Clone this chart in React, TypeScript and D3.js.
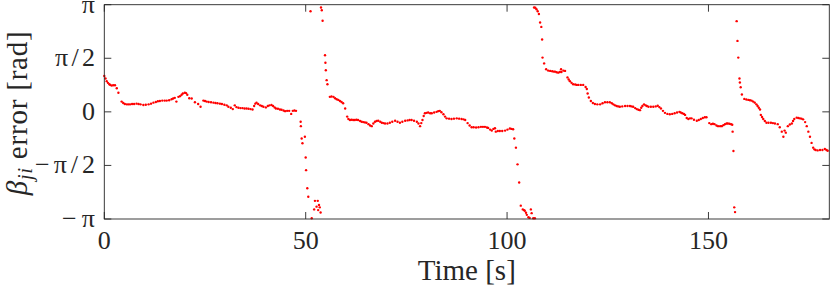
import React from "react";
import * as d3 from "d3";

const PI = Math.PI;

// [time s, error rad]
const seg1: [number, number][] = [
  [0,1.05],[0.3,0.98],[0.6,0.90],[0.9,0.85],[1.25,0.81],[1.5,0.79],[1.8,0.77],[2.2,0.78],[2.65,0.78],[3.1,0.69],[3.5,0.56],[4.3,0.30],[4.7,0.26],[5.1,0.23],[5.6,0.22],[6.0,0.22],[6.4,0.22],[6.9,0.23],[7.4,0.23],[8.0,0.24],[8.5,0.23],[9.0,0.22],[9.7,0.20],[10.3,0.21],[11.0,0.22],[11.6,0.24],[12.2,0.27],[12.8,0.29],[13.3,0.31],[13.8,0.32],[14.4,0.33],[15.0,0.33],[15.5,0.33],[16.1,0.34],[16.7,0.37],[17.1,0.39],[17.5,0.41],[17.9,0.30],[18.4,0.44],[18.8,0.46],[19.2,0.50],[19.5,0.54],[20.0,0.56],[20.3,0.55],[20.6,0.50],[21.1,0.40],[21.7,0.39],[22.5,0.28],[23.3,0.23],[23.9,0.15],[24.6,0.33],[25.0,0.32],[25.4,0.30],[25.9,0.29],[26.5,0.28],[27.1,0.27],[27.6,0.26],[28.1,0.25],[28.7,0.24],[29.2,0.23],[29.8,0.21],[30.4,0.19],[30.8,0.15],[31.4,0.12],[31.9,0.08],[32.4,0.19],[32.8,0.14],[33.3,0.12],[33.8,0.11],[34.3,0.11],[34.8,0.10],[35.3,0.10],[35.8,0.09],[36.3,0.08],[36.8,0.07],[37.2,0.17],[37.5,0.24],[37.8,0.27],[38.2,0.23],[38.7,0.19],[39.1,0.17],[39.5,0.15],[40.1,0.13],[40.6,0.17],[41.0,0.19],[41.5,0.20],[41.9,0.17],[42.3,0.13],[42.6,0.10],[43.1,0.09],[43.6,0.07],[44.0,0.06],[44.5,0.04],[44.9,0.02],[45.4,0.03],[45.9,0.03],[46.4,-0.06],[46.8,0.03],[47.2,0.04],[47.6,0.03]
];

const wrap1: [number, number][] = [
  [48.75,-0.29],[48.8,-0.42],[49.0,-0.78],[49.8,-0.73],[49.2,-0.92],[50.0,-1.34],[50.1,-1.71],[50.4,-2.24],[50.65,-2.49],[51.5,-3.12],[52.1,-2.86],[52.3,-2.61],[52.7,-2.78],[53.0,-2.61],[53.1,-2.88],[53.3,-2.73],[53.5,-2.80],[53.7,-2.95],
  [51.2,2.95],[53.8,3.06],[54.0,2.98],[54.2,2.67],[54.8,1.66],[54.9,1.44],[55.0,1.22],[55.2,0.93],[55.4,0.81]
];

const seg2: [number, number][] = [
  [56.0,0.44],[56.4,0.45],[56.9,0.44],[57.3,0.40],[57.7,0.37],[58.1,0.35],[58.5,0.32],[58.9,0.29],[59.3,0.25],[59.8,0.10],[60.3,-0.14],[60.6,-0.21],[61.0,-0.24],[61.4,-0.23],[61.8,-0.24],[62.2,-0.24],[62.6,-0.23],[63.0,-0.24],[63.5,-0.27],[63.9,-0.29],[64.3,-0.30],[64.7,-0.31],[65.1,-0.32],[65.6,-0.36],[66.0,-0.40],[66.4,-0.42],[66.8,-0.34],[67.2,-0.29],[67.6,-0.27],[68.0,-0.26],[68.5,-0.29],[68.9,-0.32],[69.3,-0.33],[69.7,-0.34],[70.3,-0.34],[70.9,-0.32],[71.5,-0.29],[72.2,-0.26],[72.8,-0.29],[73.4,-0.32],[74.0,-0.29],[74.7,-0.26],[75.3,-0.25],[75.8,-0.24],[76.3,-0.24],[76.9,-0.26],[77.6,-0.29],[78.0,-0.34],[78.4,-0.42],[78.7,-0.33],[79.0,-0.24],[79.3,-0.12],[79.6,-0.04],[80.0,-0.03],[80.4,-0.02],[80.9,-0.04],[81.3,-0.04],[81.9,-0.02],[82.5,0.00],[82.9,0.02],[83.3,0.03],[83.7,-0.01],[84.2,-0.07],[84.6,-0.14],[85.0,-0.19],[85.6,-0.20],[86.2,-0.21],[86.8,-0.20],[87.5,-0.19],[88.1,-0.20],[88.7,-0.21],[89.2,-0.22],[89.6,-0.24],[90.2,-0.33],[90.7,-0.40],[91.2,-0.45],[91.7,-0.45],[92.3,-0.46],[92.9,-0.45],[93.5,-0.44],[94.0,-0.44],[94.5,-0.44],[95.0,-0.46],[95.3,-0.47],[95.8,-0.52],[96.2,-0.55],[96.6,-0.50],[97.0,-0.48],[97.2,-0.58],[97.7,-0.56],[98.2,-0.56],[98.8,-0.56],[99.5,-0.55],[100.1,-0.52],[100.7,-0.49],[101.1,-0.50],[101.5,-0.51]
];

const wrap2: [number, number][] = [
  [101.8,-0.78],[102.2,-1.05],[102.6,-1.54],[103.0,-2.07],[103.4,-2.75],[103.9,-2.86],[104.2,-2.88],[104.4,-2.90],[104.7,-2.96],[104.9,-3.02],[105.3,-3.09],[105.6,-3.11],[105.9,-2.86],[106.1,-2.97],[106.5,-3.12],[106.9,-3.12],
  [106.7,3.06],[107.0,3.05],[107.3,3.01],[107.6,2.95],[107.9,2.87],[108.2,2.62],[108.5,2.49],[108.7,2.12],[108.8,1.59],[109.2,1.42],[109.7,1.25]
];

const seg3: [number, number][] = [
  [110.2,1.21],[110.7,1.20],[111.2,1.19],[111.6,1.18],[111.9,1.18],[112.3,1.16],[112.7,1.15],[113.1,1.17],[113.4,1.25],[113.5,1.17],[114.0,1.21],[114.4,1.20],[115.0,1.01],[115.3,0.95],[115.6,0.90],[116.0,0.85],[116.4,0.81],[116.9,0.80],[117.3,0.79],[117.7,0.79],[118.3,0.79],[118.9,0.79],[119.5,0.73],[119.8,0.67],[120.0,0.54],[120.3,0.42],[120.8,0.32],[121.3,0.26],[121.8,0.23],[122.4,0.22],[123.1,0.22],[123.7,0.25],[124.3,0.28],[124.9,0.28],[125.5,0.28],[126.0,0.25],[126.4,0.22],[126.8,0.19],[127.2,0.17],[127.6,0.16],[128.0,0.15],[128.6,0.16],[129.3,0.17],[129.9,0.17],[130.5,0.17],[130.9,0.16],[131.3,0.15],[131.8,0.11],[132.2,0.08],[132.6,0.06],[133.0,0.05],[133.3,0.12],[133.6,0.17],[134.0,0.22],[134.4,0.19],[134.7,0.17],[135.1,0.15],[135.7,0.15],[136.3,0.15],[136.9,0.16],[137.4,0.18],[137.8,0.14],[138.2,0.10],[138.7,0.03],[139.2,-0.03],[139.8,-0.06],[140.4,-0.07],[141.0,-0.06],[141.6,-0.04],[142.2,-0.02],[142.8,0.00],[143.1,-0.02],[143.5,-0.04],[143.9,-0.06],[144.2,-0.09],[144.6,-0.18],[145.0,-0.21],[145.4,-0.19],[145.8,-0.19],[146.4,-0.23],[147.1,-0.26],[147.6,-0.24],[148.1,-0.21],[148.6,-0.18],[149.1,-0.16],[149.5,-0.16],[150.2,-0.33],[150.7,-0.36],[151.1,-0.35],[151.5,-0.36],[152.0,-0.40],[152.4,-0.42],[152.9,-0.42],[153.3,-0.42],[153.7,-0.39],[154.1,-0.36],[154.5,-0.34],[154.8,-0.34],[155.2,-0.35],[155.6,-0.36],[155.9,-0.38]
];

const wrap3: [number, number][] = [
  [156.0,-0.58],[156.2,-1.15],[156.4,-2.80],[156.6,-2.94],
  [157.0,2.66],[157.2,2.08],[157.4,1.59],[157.7,0.98],[157.8,0.86],[158.0,0.72],[158.3,0.51]
];

const seg4: [number, number][] = [
  [158.9,0.38],[159.4,0.36],[159.9,0.35],[160.3,0.34],[160.7,0.33],[161.1,0.30],[161.5,0.27],[161.9,0.22],[162.2,0.17],[162.5,0.12],[162.8,0.07],[163.0,-0.09],[163.3,-0.15],[163.6,-0.21],[164.0,-0.27],[164.4,-0.32],[164.9,-0.32],[165.5,-0.32],[166.0,-0.33],[166.5,-0.34],[167.2,-0.36],[167.7,-0.45],[168.2,-0.58],[168.6,-0.73],[168.9,-0.55],[169.2,-0.61],[169.7,-0.42],[170.2,-0.37],[170.7,-0.34],[171.0,-0.27],[171.3,-0.21],[171.9,-0.17],[172.3,-0.18],[172.7,-0.19],[173.1,-0.20],[173.5,-0.22],[174.0,-0.30],[174.4,-0.42],[174.8,-0.58],[175.2,-0.73],[175.6,-0.91],[176.0,-1.05],[176.3,-1.10],[176.6,-1.12],[177.1,-1.13],[177.7,-1.12],[178.3,-1.12],[178.9,-1.09],[179.3,-1.12],[179.6,-1.14]
];

const xTicks = [0, 50, 100, 150];
const yTicks = [-PI, -PI / 2, 0, PI / 2, PI];
const yTickLabels = ["\u2212\u03c0", "\u2212\u03c0/2", "0", "\u03c0/2", "\u03c0"];
const yTickWidths = [33, 60, 12, 40, 13];

export default function App() {
  const W = 830, H = 291;
  const L = 104.3, R = 829.3, T = 4.7, B = 219;
  const x = d3.scaleLinear().domain([0, 180]).range([L, R]);
  const y = d3.scaleLinear().domain([-PI, PI]).range([B, T]);
  const all = [...seg1, ...wrap1, ...seg2, ...wrap2, ...seg3, ...wrap3, ...seg4];
  const font = "'Liberation Serif', 'Times New Roman', serif";
  const axisColor = "#262626";
  const tl = 7;
  return (
    <svg width={W} height={H} style={{ position: "absolute", left: 0, top: 0, background: "#fff" }} fontFamily={font}>
      <rect x={0} y={0} width={W} height={H} fill="#fff" />
      {all.map((d, i) => (
        <circle key={i} cx={x(d[0])} cy={y(d[1])} r={1.2} fill="#ff0000" />
      ))}
      <rect x={L} y={T} width={R - L} height={B - T} fill="none" stroke={axisColor} strokeWidth={0.9} />
      {xTicks.map((t) => (
        <g key={"x" + t}>
          <line x1={x(t)} x2={x(t)} y1={B} y2={B - tl} stroke={axisColor} strokeWidth={0.9} />
          <line x1={x(t)} x2={x(t)} y1={T} y2={T + tl} stroke={axisColor} strokeWidth={0.9} />
          <text x={x(t)} y={249} textAnchor="middle" fontSize={26} fill="#262626">{t}</text>
        </g>
      ))}
      {yTicks.map((t, i) => (
        <g key={"y" + i}>
          <line x1={L} x2={L + tl} y1={y(t)} y2={y(t)} stroke={axisColor} strokeWidth={0.9} />
          <line x1={R} x2={R - tl} y1={y(t)} y2={y(t)} stroke={axisColor} strokeWidth={0.9} />
          <text x={95} y={y(t) + 8} textAnchor="end" fontSize={26} fill="#262626"
            textLength={yTickWidths[i]} lengthAdjust="spacing">{yTickLabels[i]}</text>
        </g>
      ))}
      <text x={(L + R) / 2} y={280} textAnchor="middle" fontSize={29} fill="#262626">Time [s]</text>
      <text transform={`translate(27,${(T + B) / 2 + 1}) rotate(-90)`} textAnchor="middle" fontSize={29}
        letterSpacing={0.8} fill="#262626">
        <tspan fontStyle="italic">{"\u03b2"}</tspan>
        <tspan fontStyle="italic" fontSize={20} dy={5}>ji</tspan>
        <tspan dy={-5}>{" error [rad]"}</tspan>
      </text>
    </svg>
  );
}
